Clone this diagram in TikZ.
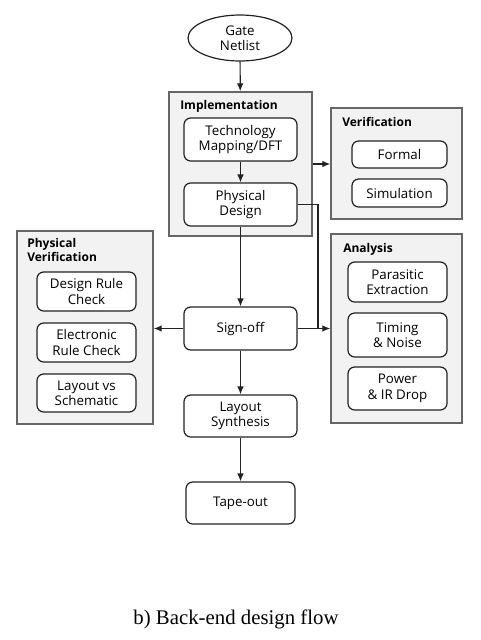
\documentclass[tikz,border=0pt]{standalone}
\usepackage{fontspec}
\setmainfont{Open Sans}
\newfontfamily\capfont{Liberation Serif}
\usetikzlibrary{shapes.geometric,arrows.meta}
\definecolor{grpfill}{HTML}{F2F2F2}
\definecolor{grpline}{HTML}{666666}
\definecolor{boxline}{HTML}{222222}
\begin{document}
\begin{tikzpicture}[x=0.75pt,y=-0.75pt,
  every node/.style={font=\fontsize{10pt}{11.5pt}\selectfont},
  grp/.style={draw=grpline,fill=grpfill,line width=1.1pt,minimum width=#1,inner sep=0pt},
  stepbox/.style={draw=boxline,fill=white,line width=0.9pt,rounded corners=5pt,align=center,inner sep=0pt,text=black},
  ttl/.style={font=\fontsize{9pt}{10.5pt}\selectfont\bfseries,anchor=base west,inner sep=0pt,align=left},
  arr/.style={draw=boxline,line width=0.9pt,-{Latex[length=6pt,width=5pt]}},
  ln/.style={draw=boxline,line width=0.9pt}]
\useasboundingbox (0,0) rectangle (481,640);
% start
\node[ellipse,draw=boxline,fill=white,line width=0.9pt,minimum width=104*0.75pt,minimum height=46*0.75pt,inner sep=0pt,align=center] (net) at (240,38) {Gate\\Netlist};
% groups
\node[grp=143*0.75pt,minimum height=144*0.75pt] (impl) at (240.5,164) {};
\node[grp=131*0.75pt,minimum height=111*0.75pt] (ver) at (396.5,163.5) {};
\node[grp=131*0.75pt,minimum height=189*0.75pt] (ana) at (396.5,328.5) {};
\node[grp=136*0.75pt,minimum height=193*0.75pt] (pv) at (85,327.5) {};
% titles
\node[ttl] (implt) at (180,109) {Implementation};
\node[ttl] (vert) at (342,126) {Verification};
\node[ttl] (anat) at (343,252) {Analysis};
\node[ttl,anchor=north west] (pvt) at (27,238) {Physical\\Verification};
% main flow boxes
\node[stepbox,minimum width=113*0.75pt,minimum height=43*0.75pt] (tm) at (240.5,139.5) {Technology\\Mapping/DFT};
\node[stepbox,minimum width=113*0.75pt,minimum height=43*0.75pt] (pd) at (240.5,204.5) {Physical\\Design};
\node[stepbox,minimum width=113*0.75pt,minimum height=43*0.75pt] (so) at (240.5,328.5) {Sign-off};
\node[stepbox,minimum width=113*0.75pt,minimum height=42*0.75pt] (ls) at (240.5,416) {Layout\\Synthesis};
\node[stepbox,minimum width=109*0.75pt,minimum height=42*0.75pt] (to) at (240.5,503) {Tape-out};
% verification
\node[stepbox,minimum width=95*0.75pt,minimum height=27*0.75pt] (formal) at (399.5,154.5) {Formal};
\node[stepbox,minimum width=95*0.75pt,minimum height=28*0.75pt] (sim) at (399.5,193) {Simulation};
% analysis
\node[stepbox,minimum width=99*0.75pt,minimum height=40*0.75pt] (par) at (397.5,282) {Parasitic\\Extraction};
\node[stepbox,minimum width=99*0.75pt,minimum height=44*0.75pt] (tim) at (397.5,335) {Timing\\\& Noise};
\node[stepbox,minimum width=99*0.75pt,minimum height=43*0.75pt] (pow) at (397.5,388.5) {Power\\\& IR Drop};
% physical verification
\node[stepbox,minimum width=99*0.75pt,minimum height=39*0.75pt] (drc) at (86.5,291.5) {Design Rule\\Check};
\node[stepbox,minimum width=99*0.75pt,minimum height=39*0.75pt] (erc) at (86.5,342.5) {Electronic\\Rule Check};
\node[stepbox,minimum width=99*0.75pt,minimum height=38*0.75pt] (lvs) at (86.5,393) {Layout vs\\Schematic};
% connectors
\coordinate (j) at (318,328.5);
\draw[arr] (net) -- (impl);
\draw[arr] (tm) -- (pd);
\draw[arr] (pd) -- (so);
\draw[arr] (so) -- (ls);
\draw[arr] (ls) -- (to);
\draw[arr] (impl.east) -- (impl.east -| ver.west);
\draw[ln] (pd.east) -| (j);
\draw[arr] (so.east) -- (so.east -| ana.west);
\draw[arr] (so.west) -- (so.west -| pv.east);
% caption
\node[font=\capfont\fontsize{15.6pt}{18pt}\selectfont,anchor=base,inner sep=0pt] (cap) at (236,624) {b) Back-end design flow};
\end{tikzpicture}
\end{document}
